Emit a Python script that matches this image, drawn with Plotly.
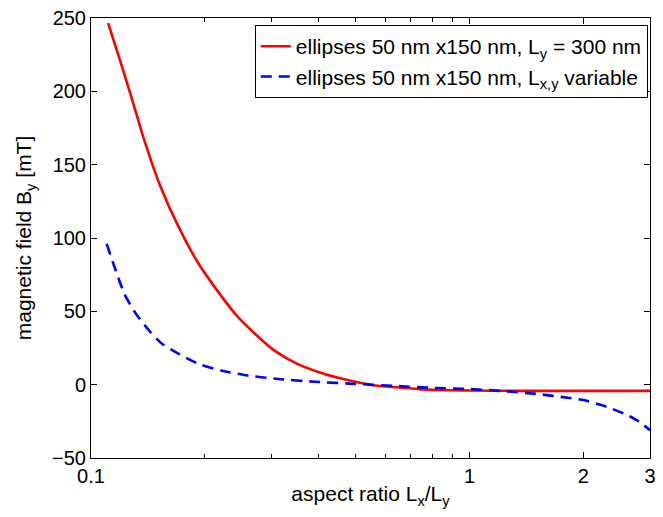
import plotly.graph_objects as go

# Data
red_x = [0.111, 0.119, 0.129, 0.137, 0.152, 0.171, 0.193, 0.213, 0.241, 0.272, 0.306,
         0.352, 0.414, 0.486, 0.571, 0.644, 0.75, 0.9, 1.0, 1.3, 1.7, 2.2, 3.0]
red_y = [246.5, 222, 192.7, 170, 136.2, 106.7, 81.9, 66, 48, 34.4, 23,
         14, 7.3, 2.7, -0.7, -1.8, -3.2, -3.8, -4.0, -4.2, -4.2, -4.2, -4.2]

blue_x = [0.110, 0.1156, 0.1227, 0.1317, 0.1427, 0.1546, 0.171, 0.193, 0.222, 0.261,
          0.3125, 0.39, 0.5, 0.65, 0.8, 1.0, 1.2, 1.5, 1.8, 2.0, 2.3, 2.6, 2.8, 3.0]
blue_y = [96, 79.6, 61.5, 48, 36.6, 27.6, 20.8, 14, 9.5, 6.1,
          3.9, 2, 0.5, -1.0, -2.2, -3, -4.2, -6.3, -8.8, -10.5, -15, -20.5, -25, -31]

x_tick_vals = [0.1, 1, 2, 3]
x_tick_text = ["0.1", "1", "2", "3"]
x_minor_vals = [0.2, 0.3, 0.4, 0.5, 0.6, 0.7, 0.8, 0.9]

red_name = "ellipses 50 nm x150 nm, L<sub>y</sub> = 300 nm"
blue_name = "ellipses 50 nm x150 nm, L<sub>x,y</sub> variable"

FONT = "Liberation Sans, Arial, Helvetica, sans-serif"

fig = go.Figure()
fig.add_trace(go.Scatter(x=red_x, y=red_y, mode="lines", name=red_name,
                         line=dict(color="#ff0000", width=2.6, shape="spline", smoothing=0.6)))
fig.add_trace(go.Scatter(x=blue_x, y=blue_y, mode="lines", name=blue_name,
                         line=dict(color="#0000ff", width=2.6, dash="11px,7px",
                                   shape="spline", smoothing=0.6)))

fig.update_layout(
    width=663, height=517,
    margin=dict(l=91, r=7, t=16, b=59),
    paper_bgcolor="white", plot_bgcolor="white",
    font=dict(family=FONT, size=20, color="black"),
    showlegend=True,
    legend=dict(x=0.293, y=0.984, xanchor="left", yanchor="top",
                bordercolor="black", borderwidth=1, bgcolor="white",
                font=dict(size=21), itemwidth=30, tracegroupgap=0),
    xaxis=dict(type="log", range=[-1, 0.47712], tickmode="array",
               tickvals=x_tick_vals, ticktext=x_tick_text,
               ticks="inside", ticklen=6, tickcolor="black",
               showline=True, linecolor="black", linewidth=1, mirror="ticks",
               showgrid=False, zeroline=False,
               minor=dict(tickmode="array", tickvals=x_minor_vals, ticks="inside",
                          ticklen=4, tickcolor="black", showgrid=False),
               title=dict(text="aspect ratio L<sub>x</sub>/L<sub>y</sub>",
                          font=dict(size=21), standoff=0)),
    yaxis=dict(range=[-50, 250], dtick=50, tick0=0,
               ticks="inside", ticklen=6, tickcolor="black",
               showline=True, linecolor="black", linewidth=1, mirror="ticks",
               showgrid=False, zeroline=False, ticklabeloverflow="allow",
               title=dict(text="magnetic field B<sub>y</sub> [mT]",
                          font=dict(size=21), standoff=14)),
)

fig.write_html("out.html",
               config={"displayModeBar": False},
               post_script="document.body.style.margin='0';document.body.style.overflow='hidden';")
